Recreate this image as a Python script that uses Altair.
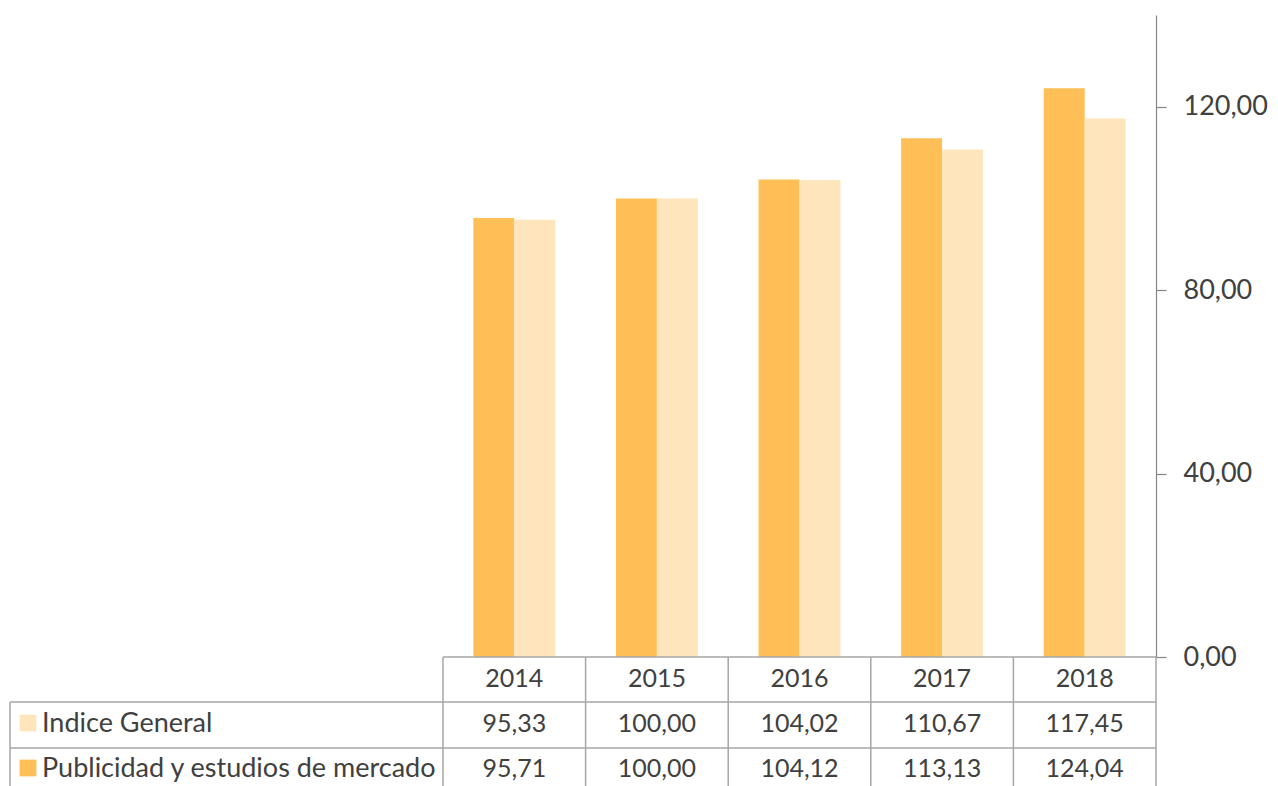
import altair as alt
import pandas as pd

years = ["2014", "2015", "2016", "2017", "2018"]
series = ["Publicidad y estudios de mercado", "Indice General"]
publicidad = [95.71, 100.00, 104.12, 113.13, 124.04]
indice_general = [95.33, 100.00, 104.02, 110.67, 117.45]
colors = ["#FFBF57", "#FFE5BC"]

W, H = 713, 642
FONT = "Lato"
TXT = "#404040"
LINE = "#A6A6A6"

rows = []
for i, y in enumerate(years):
    rows.append({"year": y, "serie": series[0], "value": publicidad[i]})
    rows.append({"year": y, "serie": series[1], "value": indice_general[i]})
df = pd.DataFrame(rows)
df_years = pd.DataFrame({"year": years})

xscale = alt.Scale(domain=years, paddingInner=0, paddingOuter=0)

bars = alt.Chart(df).mark_bar().encode(
    x=alt.X("year:N", scale=xscale, axis=None),
    xOffset=alt.XOffset("serie:N", sort=series,
                        scale=alt.Scale(domain=series, paddingInner=0, paddingOuter=0.74)),
    y=alt.Y("value:Q", scale=alt.Scale(domain=[0, 140], nice=False),
            axis=alt.Axis(orient="right", values=[0, 40, 80, 120], title=None,
                          labelExpr="replace(format(datum.value, '.2f'), '.', ',')",
                          grid=False, domainColor="#868686", tickColor="#868686",
                          tickSize=10, labelPadding=17, labelFontSize=27,
                          labelColor=TXT, labelFont=FONT, labelAlign="left",
                          labelBaseline="middle", domainWidth=1.2, tickWidth=1.2)),
    color=alt.Color("serie:N", scale=alt.Scale(domain=series, range=colors), legend=None),
)

year_text = alt.Chart(df_years).mark_text(fontSize=25, font=FONT, color=TXT, baseline="middle").encode(
    x=alt.X("year:N", scale=xscale, axis=None),
    y=alt.value(664),
    text="year:N",
)

row_y = {series[1]: 709, series[0]: 754}

value_layers = []
for s in [series[1], series[0]]:
    value_layers.append(
        alt.Chart(df).transform_filter(alt.datum.serie == s).transform_calculate(
            label="replace(format(datum.value, '.2f'), '.', ',')"
        ).mark_text(fontSize=25, font=FONT, color=TXT, baseline="middle").encode(
            x=alt.X("year:N", scale=xscale, axis=None),
            y=alt.value(row_y[s]),
            text="label:N",
        )
    )

df_leg = pd.DataFrame({"serie": series})
leg_sq = []
leg_txt = []
for s in series:
    leg_sq.append(
        alt.Chart(df_leg).transform_filter(alt.datum.serie == s).mark_square(size=280, opacity=1).encode(
            x=alt.value(-415), y=alt.value(row_y[s] - 1),
            color=alt.Color("serie:N", scale=alt.Scale(domain=series, range=colors), legend=None),
        )
    )
    leg_txt.append(
        alt.Chart(df_leg).transform_filter(alt.datum.serie == s).mark_text(
            fontSize=27, font=FONT, color=TXT, align="left", baseline="middle").encode(
            x=alt.value(-401), y=alt.value(row_y[s]), text="serie:N",
        )
    )

vlines = alt.Chart(df_years).mark_rule(color=LINE, strokeWidth=1.5).encode(
    x=alt.X("year:N", scale=xscale, axis=None, bandPosition=0),
    y=alt.value(642), y2=alt.value(800),
)
vline_right = alt.Chart(df_years).transform_filter(alt.datum.year == years[-1]).mark_rule(
    color=LINE, strokeWidth=1.5).encode(x=alt.value(W), y=alt.value(642), y2=alt.value(800))
vline_left = alt.Chart(df_years).transform_filter(alt.datum.year == years[0]).mark_rule(
    color=LINE, strokeWidth=1.5).encode(x=alt.value(-433), y=alt.value(687), y2=alt.value(800))
h1 = alt.Chart(df_years).transform_filter(alt.datum.year == years[0]).mark_rule(
    color=LINE, strokeWidth=1.5).encode(x=alt.value(0), x2=alt.value(W), y=alt.value(642))
h2 = alt.Chart(df_years).transform_filter(alt.datum.year == years[0]).mark_rule(
    color=LINE, strokeWidth=1.5).encode(x=alt.value(-433), x2=alt.value(W), y=alt.value(687))
h3 = alt.Chart(df_years).transform_filter(alt.datum.year == years[0]).mark_rule(
    color=LINE, strokeWidth=1.5).encode(x=alt.value(-433), x2=alt.value(W), y=alt.value(733))

chart = alt.layer(
    bars, vlines, vline_right, vline_left, h1, h2, h3, year_text, *value_layers, *leg_sq, *leg_txt
).properties(
    width=W, height=H,
    padding={"left": 435, "top": 7, "right": 114, "bottom": 137},
    autosize=alt.AutoSizeParams(type="none"),
).configure_view(stroke=None)

chart.save("out.html", embed_options={"renderer": "svg", "actions": False})
